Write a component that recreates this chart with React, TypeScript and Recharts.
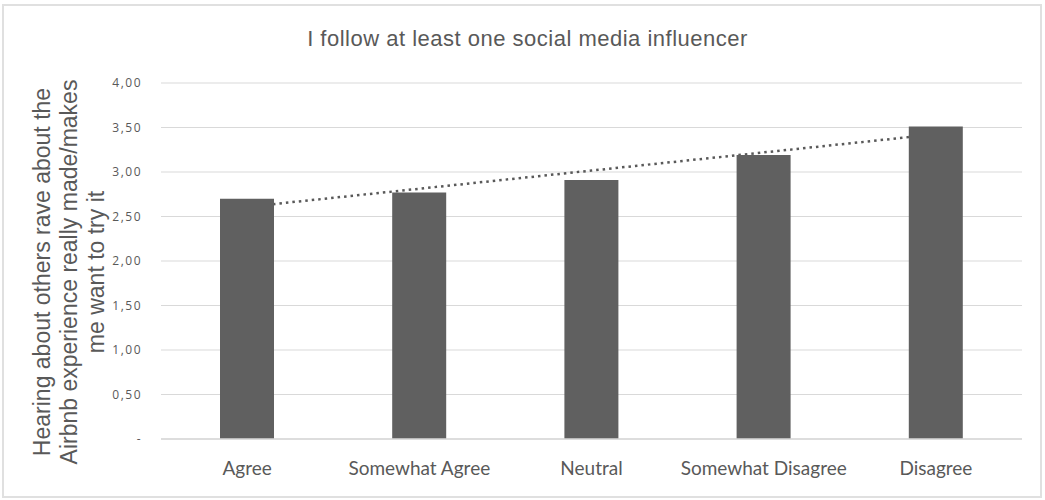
import React from "react";
import {
  ComposedChart,
  Bar,
  Line,
  XAxis,
  YAxis,
  CartesianGrid,
} from "recharts";

// Survey answers to "I follow at least one social media influencer"
const categories = ["Agree", "Somewhat Agree", "Neutral", "Somewhat Disagree", "Disagree"];
// Mean agreement with the Airbnb statement for each group
const meanScores = [2.7, 2.77, 2.91, 3.19, 3.51];
const yTicks = [0, 0.5, 1, 1.5, 2, 2.5, 3, 3.5, 4];

const title = "I follow at least one social media influencer";
const yTitleLines = [
  "Hearing about others rave about the",
  "Airbnb experience really made/makes",
  "me want to try it",
];

// Ordinary least-squares linear trend over the category index
function linearTrend(values: number[]): number[] {
  const n = values.length;
  const xs = values.map((_, i) => i + 1);
  const mx = xs.reduce((a, b) => a + b, 0) / n;
  const my = values.reduce((a, b) => a + b, 0) / n;
  let num = 0;
  let den = 0;
  xs.forEach((x, i) => {
    num += (x - mx) * (values[i] - my);
    den += (x - mx) * (x - mx);
  });
  const slope = num / den;
  return xs.map((x) => my + slope * (x - mx));
}

const trend = linearTrend(meanScores);
const data = categories.map((name, i) => ({
  name,
  score: meanScores[i],
  trend: trend[i],
}));

const GREY = "#595959";
const GRID = "#d9d9d9";

const formatTick = (v: number) => (v === 0 ? "-" : v.toFixed(2).replace(".", ","));

const YTitle = () => {
  const baselines = [50, 77, 104];
  const cy = 272;
  return (
    <g>
      {yTitleLines.map((line, i) => (
        <g key={i} transform={`translate(${baselines[i]}, ${cy}) rotate(-90)`}>
          <text
            x={0}
            y={0}
            textAnchor="middle"
            fill={GREY}
            fontFamily="'Liberation Sans', Arial, sans-serif"
            fontSize={23}
          >
            {line}
          </text>
        </g>
      ))}
    </g>
  );
};

export default function App() {
  return (
    <div
      style={{
        position: "absolute",
        left: 0,
        top: 0,
        width: 1045,
        height: 500,
        background: "#ffffff",
      }}
    >
      <div
        style={{
          position: "absolute",
          left: 2,
          top: 4,
          width: 1040,
          height: 494,
          border: "2px solid #e0e0e0",
          boxSizing: "border-box",
        }}
      />
      <div
        style={{
          position: "absolute",
          left: 0,
          top: 26,
          width: 1055,
          textAlign: "center",
          fontFamily: "'Liberation Sans', Arial, sans-serif",
          fontSize: 22,
          letterSpacing: 0.5,
          color: GREY,
          lineHeight: "26px",
        }}
      >
        {title}
      </div>
      <div style={{ position: "absolute", left: 0, top: 0 }}>
        <ComposedChart
          width={1045}
          height={500}
          data={data}
          margin={{ top: 83, right: 23, bottom: 0, left: 0 }}
        >
          <CartesianGrid vertical={false} stroke={GRID} strokeWidth={1} />
          <XAxis
            dataKey="name"
            height={61}
            axisLine={{ stroke: GRID, strokeWidth: 1.5 }}
            tickLine={false}
            tickSize={0}
            tickMargin={23}
            interval={0}
            tick={{
              fill: GREY,
              fontSize: 19,
              fontFamily: "Lato, 'Open Sans', sans-serif",
            }}
          />
          <YAxis
            width={161}
            domain={[0, 4]}
            ticks={yTicks}
            axisLine={false}
            tickLine={false}
            tickSize={0}
            tickMargin={19}
            tickFormatter={formatTick}
            tick={{
              fill: GREY,
              fontSize: 12,
              letterSpacing: 1.5,
              fontFamily: "'Open Sans', sans-serif",
            }}
            label={{ content: () => <YTitle /> }}
          />
          {/* trend sits underneath the bars */}
          <Line
            dataKey="trend"
            type="linear"
            stroke={GREY}
            strokeWidth={2.5}
            strokeDasharray="2.5 4"
            dot={false}
            activeDot={false}
            isAnimationActive={false}
            zIndex={100}
          />
          <Bar
            dataKey="score"
            fill="#606060"
            barSize={54}
            isAnimationActive={false}
            zIndex={200}
          />
        </ComposedChart>
      </div>
    </div>
  );
}
